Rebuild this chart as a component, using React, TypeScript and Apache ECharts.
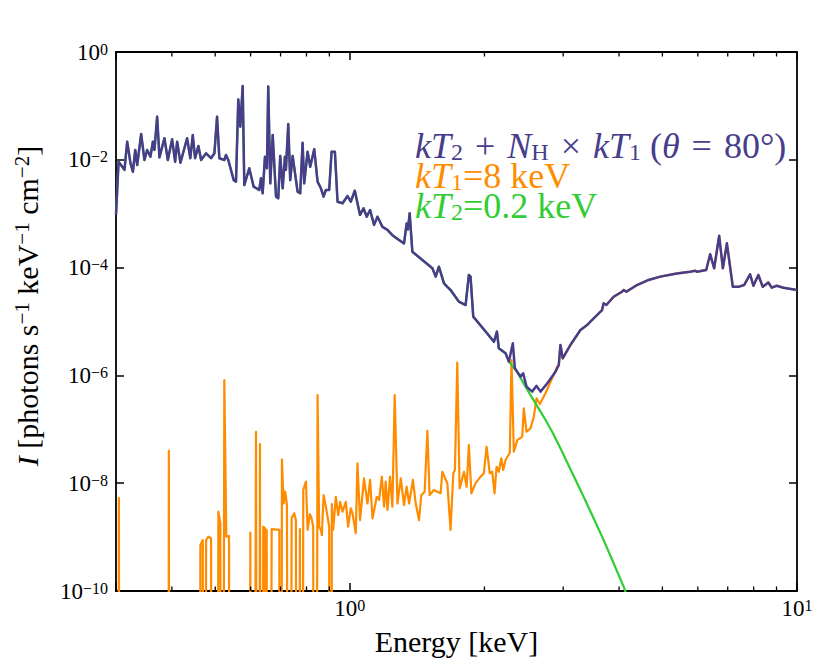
import React, { useEffect, useRef } from "react";
import * as echarts from "echarts";

// Flux value that is effectively zero (falls below the plotted range)
const FLOOR = 1e-30;

// Total model: kT2 + NH x kT1 (theta = 80 deg)
const totalE = [
  0.300, 0.304, 0.3134, 0.3178, 0.3232, 0.3273, 0.3312, 0.3346, 0.3415, 0.3473,
  0.3522, 0.3582, 0.3627, 0.3657, 0.3708, 0.3752, 0.3850, 0.3918, 0.4005, 0.4068,
  0.4110, 0.4181, 0.4326, 0.4399, 0.4454, 0.4508, 0.4585, 0.4650, 0.4771, 0.4895,
  0.4979, 0.5048, 0.5108, 0.5240, 0.5286, 0.5348, 0.5500, 0.5565, 0.5631, 0.5689,
  0.5760, 0.5808, 0.5958, 0.6095, 0.6273, 0.6329, 0.6384, 0.6460, 0.6526, 0.6570,
  0.6640, 0.6723, 0.6839, 0.6918, 0.6989, 0.7077, 0.7159, 0.7196, 0.7283, 0.7357,
  0.7449, 0.7642, 0.7745, 0.7841, 0.7906, 0.8045, 0.8156, 0.8325, 0.8470, 0.8617,
  0.8736, 0.8839, 0.8991, 0.9103, 0.9260, 0.9387, 0.9632, 0.9882, 1.005, 1.026,
  1.054, 1.073, 1.091, 1.110, 1.133, 1.153, 1.183, 1.214, 1.245, 1.288,
  1.322, 1.340, 1.349, 1.361, 1.380, 1.530, 1.556, 1.582, 1.624, 1.652,
  1.680, 1.754, 1.815, 1.846, 1.862, 1.888, 2.029, 2.100, 2.133, 2.154,
  2.230, 2.268, 2.315, 2.339, 2.408, 2.442, 2.484, 2.557, 2.615, 2.669,
  2.762, 2.884, 2.933, 2.958, 2.993, 3.113, 3.279, 3.393, 3.451, 3.665,
  3.695, 3.747, 3.890, 4.062, 4.096, 4.153, 4.387, 4.657, 4.946, 5.389,
  5.770, 5.920, 5.972, 6.265, 6.395, 6.528, 6.698, 6.827, 6.969, 7.187,
  7.396, 7.616, 7.854, 7.989, 8.196, 8.383, 8.628, 8.780, 9.010, 9.320, 10.0,
];
const totalI = [
  9.5e-4, 9.2e-3, 6.5e-3, 2.17e-2, 8.7e-3, 6.0e-3, 1.52e-2, 8.0e-3, 3.01e-2, 9.9e-3,
  1.52e-2, 1.14e-2, 2.17e-2, 1.52e-2, 6.3e-2, 1.11e-2, 2.51e-2, 9.9e-3, 2.4e-2, 9.2e-3,
  2.17e-2, 8.8e-3, 2.51e-2, 1.07e-2, 2.88e-2, 1.07e-2, 1.80e-2, 9.9e-3, 1.32e-2, 1.07e-2,
  1.32e-2, 6.3e-2, 1.07e-2, 9.9e-3, 1.23e-2, 9.9e-3, 4.2e-3, 3.93e-3, 0.132, 4.1e-2,
  0.234, 3.4e-3, 6.95e-3, 3.17e-3, 2.75e-3, 4.54e-3, 2.39e-3, 1.14e-2, 6.95e-3, 0.228,
  3.66e-3, 2.88e-2, 2.07e-3, 1.93e-3, 1.18e-2, 2.96e-3, 1.14e-2, 6.5e-3, 4.6e-2, 4.2e-3,
  1.18e-2, 2.56e-3, 2.39e-3, 2.07e-2, 3.66e-3, 1.41e-2, 7.4e-3, 1.57e-2, 3.93e-3, 2.96e-3,
  2.07e-3, 2.75e-3, 2.75e-3, 1.41e-2, 1.41e-2, 1.67e-3, 1.56e-3, 2.13e-3, 1.67e-3, 2.67e-3,
  9.5e-4, 1.26e-3, 8.8e-4, 1.17e-3, 6.2e-4, 8.8e-4, 5.7e-4, 5.0e-4, 4.0e-4, 3.25e-4,
  2.82e-4, 6.6e-4, 5.1e-4, 1.02e-3, 1.97e-4, 9.7e-5, 6.8e-5, 1.04e-4, 5.1e-5, 4.4e-5,
  3.84e-5, 2.33e-5, 2.02e-5, 7.3e-5, 6.8e-5, 1.23e-5, 6.0e-6, 4.2e-6, 6.5e-6, 3.18e-6,
  2.57e-6, 1.80e-6, 3.94e-6, 1.36e-6, 9.5e-7, 1.09e-6, 6.2e-7, 5.0e-7, 6.4e-7, 5.0e-7,
  7.1e-7, 1.17e-6, 1.56e-6, 3.66e-6, 2.07e-6, 3.66e-6, 6.95e-6, 8.6e-6, 9.9e-6, 1.63e-5,
  2.18e-5, 2.02e-5, 2.88e-5, 3.57e-5, 3.84e-5, 3.57e-5, 4.75e-5, 5.9e-5, 6.8e-5, 7.8e-5,
  8.4e-5, 8.75e-5, 8.4e-5, 9.0e-5, 1.77e-4, 9.7e-5, 3.9e-4, 9.7e-5, 2.82e-4, 4.4e-5,
  4.4e-5, 4.75e-5, 7.5e-5, 4.6e-5, 7.3e-5, 4.4e-5, 5.3e-5, 4.24e-5, 4.6e-5, 4.24e-5, 3.84e-5,
];

// kT1 = 8 keV component (low-energy part; above ~2.9 keV it follows the total)
const hotE = [
  0.303, 0.3045, 0.307,
  0.3918, 0.3938, 0.3964,
  0.4613, 0.4632, 0.4690, 0.4729, 0.4771, 0.4827, 0.4895, 0.4920,
  0.5024, 0.5082, 0.5134, 0.5171, 0.5240, 0.5294, 0.5368, 0.5395,
  0.5952, 0.5991, 0.6034, 0.6169, 0.6223, 0.6296, 0.6352, 0.6404, 0.6460, 0.6494,
  0.6517, 0.6570, 0.6687, 0.6956, 0.6989, 0.7050, 0.7112, 0.7171, 0.7234, 0.7319,
  0.7410, 0.7510, 0.7576, 0.7642, 0.7735, 0.7803, 0.7868, 0.7977, 0.8047, 0.8142,
  0.8213, 0.8281, 0.8354, 0.8470, 0.8540, 0.8615, 0.8659, 0.8736, 0.8840, 0.8992,
  0.9037, 0.9116, 0.9177, 0.9306, 0.9417, 0.9513, 0.9632, 0.9796, 0.9913, 1.005,
  1.014, 1.031, 1.040, 1.054, 1.076, 1.095, 1.110, 1.124, 1.149, 1.163,
  1.179, 1.193, 1.203, 1.214, 1.230, 1.245, 1.260, 1.278, 1.300, 1.322,
  1.340, 1.357, 1.384, 1.404, 1.428, 1.445, 1.470, 1.491, 1.508, 1.542,
  1.569, 1.596, 1.610, 1.652, 1.680, 1.704, 1.718, 1.739, 1.760, 1.800,
  1.825, 1.846, 1.870, 1.911, 1.961, 1.994, 2.022, 2.056, 2.082, 2.107,
  2.129, 2.154, 2.181, 2.203, 2.230, 2.279, 2.299, 2.327, 2.368, 2.430,
  2.449, 2.484, 2.535, 2.579, 2.615, 2.660, 2.739, 2.908,
];
const hotI = [
  FLOOR, 5.3e-9, FLOOR,
  FLOOR, 4.0e-8, FLOOR,
  FLOOR, 7.1e-10, 8.8e-10, FLOOR, 8.8e-10, 1.02e-9, 9.5e-10, FLOOR,
  FLOOR, 2.96e-9, 1.80e-9, FLOOR, 8.2e-7, 1.02e-9, 1.05e-9, FLOOR,
  FLOOR, 1.21e-9, FLOOR, 9.0e-8, FLOOR, 5.3e-8, FLOOR, 1.56e-9, 1.46e-9, FLOOR,
  1.36e-9, FLOOR, 1.41e-9, 1.36e-9, FLOOR, 2.77e-8, 4.2e-9, 6.95e-9, 3.94e-9, FLOOR,
  2.23e-9, 2.77e-9, 2.07e-9, FLOOR, 1.40e-9, FLOOR, 7.5e-9, 1.07e-8, 1.36e-9, 2.68e-9,
  2.23e-9, 1.56e-9, FLOOR, 4.3e-7, 1.56e-9, 1.36e-9, 1.09e-9, 6.0e-9, 3.66e-9, 1.56e-9,
  FLOOR, 4.1e-9, 1.36e-9, 5.6e-9, 2.57e-9, 4.5e-9, 2.96e-9, 4.5e-9, 1.56e-9, 3.42e-9,
  2.77e-9, 1.18e-9, 2.34e-8, 2.07e-9, 1.23e-8, 4.2e-9, 1.15e-8, 2.23e-9, 5.6e-9, 4.9e-9,
  1.32e-8, 3.66e-9, 1.07e-8, 3.18e-9, 1.32e-8, 3.66e-9, 4.3e-7, 4.2e-9, 1.23e-8, 3.94e-9,
  8.6e-9, 4.2e-9, 1.15e-8, 4.2e-9, 2.07e-9, 6.0e-9, 6.95e-9, 9.4e-8, 6.0e-9, 7.5e-9,
  6.95e-9, 6.5e-9, 1.63e-8, 1.0e-8, 1.36e-9, 1.53e-8, 1.76e-8, 1.72e-6, 8.0e-9, 1.63e-8,
  8.6e-9, 5.1e-8, 6.5e-9, 1.0e-8, 1.32e-8, 1.53e-8, 4.75e-8, 1.53e-8, 1.63e-8, 6.5e-9,
  2.02e-8, 1.63e-8, 2.9e-8, 1.76e-8, 2.69e-8, 3.68e-8, 1.93e-6, 3.84e-8, 6.3e-8, 7.3e-8,
  2.45e-7, 9.0e-8, 1.04e-7, 1.71e-7, 3.76e-7, 2.95e-7, 4.66e-7, 1.45e-6,
];

// kT2 = 0.2 keV component: follows the total below ~2.27 keV, then falls off
const coolTailE = [2.368, 2.471, 2.602, 2.720, 2.835, 2.958, 3.110, 3.279, 3.480, 3.695, 3.890, 4.111, 4.46];
const coolTailI = [1.15e-6, 6.2e-7, 3.03e-7, 1.65e-7, 9.0e-8, 4.44e-8, 1.85e-8, 7.5e-9, 2.6e-9, 8.8e-10, 3.27e-10, 1.12e-10, 1.26e-11];

// Axis ticks
const minorTickE = [0.4, 0.5, 0.6, 0.7, 0.8, 0.9, 2, 3, 4, 5, 6, 7, 8, 9];
const yTickExponents = [-10, -8, -6, -4, -2, 0];

const SERIF = "'Liberation Serif', 'DejaVu Serif', serif";
const BLUE = "#483D8B";
const ORANGE = "#FF8C00";
const GREEN = "#32CD32";

const pairs = (e: number[], v: number[]) => e.map((x, i) => [x, v[i]]);

export default function App() {
  const ref = useRef<HTMLDivElement>(null);

  useEffect(() => {
    document.body.style.margin = "0";
    if (!ref.current) return;
    const chart = echarts.init(ref.current, undefined, { renderer: "svg" });

    const totalData = pairs(totalE, totalI);
    const hotData = pairs(hotE, hotI).concat(totalData.filter((p) => p[0] > 2.92));
    const coolData = totalData.filter((p) => p[0] <= 2.27).concat(pairs(coolTailE, coolTailI));

    const tickRich = {
      b: { fontFamily: SERIF, fontSize: 23, lineHeight: 22, color: "#000" },
      s: { fontFamily: SERIF, fontSize: 16, lineHeight: 11, verticalAlign: "top", color: "#000" },
    };
    const expText = (n: number) => (n < 0 ? "\u2212" + Math.abs(n) : String(n));

    const xFmt = (v: number) => {
      const l = Math.log10(v);
      const r = Math.round(l);
      return Math.abs(l - r) < 1e-6 ? `{b|10}{s|${expText(r)}}` : "";
    };
    const yFmt = (v: number) => `{b|10}{s|${expText(Math.round(v))}}`;

    const axisLine = { show: true, onZero: false, lineStyle: { color: "#000", width: 1.8 } };
    const majorTick = { show: true, inside: true, length: 8, lineStyle: { color: "#000", width: 1.5 } };

    const legendRich = (color: string) => ({
      i: { fontFamily: SERIF, fontStyle: "italic", fontSize: 36, lineHeight: 36, color },
      r: { fontFamily: SERIF, fontSize: 36, lineHeight: 36, color },
      op: { fontFamily: SERIF, fontSize: 36, lineHeight: 36, padding: [0, 12, 0, 12], color },
      sb: { fontFamily: SERIF, fontSize: 24, lineHeight: 20, verticalAlign: "bottom", color },
    });

    const option: any = {
      animation: false,
      backgroundColor: "#ffffff",
      grid: { left: 116, right: 33, top: 52, bottom: 73, containLabel: false, outerBoundsMode: "none" },
      xAxis: [
        {
          type: "log",
          logBase: 10,
          min: 0.3,
          max: 10,
          position: "bottom",
          axisLine,
          axisTick: majorTick,
          axisLabel: { show: true, margin: 6, formatter: xFmt, rich: tickRich, showMaxLabel: true, showMinLabel: true },
          splitLine: { show: false },
        },
        {
          type: "log",
          logBase: 10,
          min: 0.3,
          max: 10,
          position: "top",
          axisLine,
          axisTick: majorTick,
          axisLabel: { show: false },
          splitLine: { show: false },
        },
      ],
      yAxis: [
        { type: "log", logBase: 10, min: 1e-10, max: 1, show: false, splitLine: { show: false } },
        {
          type: "value",
          min: yTickExponents[0],
          max: yTickExponents[yTickExponents.length - 1],
          interval: 2,
          position: "left",
          axisLine,
          axisTick: majorTick,
          axisLabel: { show: true, margin: 8, formatter: yFmt, rich: tickRich, showMinLabel: true, showMaxLabel: true },
          splitLine: { show: false },
        },
        {
          type: "value",
          min: yTickExponents[0],
          max: yTickExponents[yTickExponents.length - 1],
          interval: 2,
          position: "right",
          axisLine,
          axisTick: majorTick,
          axisLabel: { show: false },
          splitLine: { show: false },
        },
      ],
      series: [
        {
          type: "line",
          name: "kT1",
          data: hotData,
          xAxisIndex: 0,
          yAxisIndex: 0,
          symbol: "none",
          clip: true,
          z: 3,
          lineStyle: { color: ORANGE, width: 2.2, join: "round" },
        },
        {
          type: "line",
          name: "kT2",
          data: coolData,
          xAxisIndex: 0,
          yAxisIndex: 0,
          symbol: "none",
          clip: true,
          z: 3,
          lineStyle: { color: GREEN, width: 2.2, join: "round" },
        },
        {
          type: "line",
          name: "total",
          data: totalData,
          xAxisIndex: 0,
          yAxisIndex: 0,
          symbol: "none",
          clip: true,
          z: 4,
          lineStyle: { color: BLUE, width: 2.5, join: "round" },
        },
        {
          type: "custom",
          name: "minor ticks",
          xAxisIndex: 0,
          yAxisIndex: 0,
          silent: true,
          clip: false,
          z: 5,
          data: minorTickE.map((e) => [e, 1e-5]),
          encode: { x: 0, y: 1 },
          renderItem: (params: any, api: any) => {
            const cs = params.coordSys;
            const x = api.coord([api.value(0), 1e-5])[0];
            const yb = cs.y + cs.height;
            const yt = cs.y;
            const st = { stroke: "#000", lineWidth: 1.3 };
            return {
              type: "group",
              children: [
                { type: "line", shape: { x1: x, y1: yb, x2: x, y2: yb - 4.5 }, style: st },
                { type: "line", shape: { x1: x, y1: yt, x2: x, y2: yt + 4.5 }, style: st },
              ],
            };
          },
        },
      ],
      graphic: [
        {
          type: "text",
          x: 456.5,
          y: 641,
          style: {
            text: "Energy [keV]",
            fontFamily: SERIF,
            fontSize: 30,
            fill: "#000",
            align: "center",
            verticalAlign: "middle",
          },
        },
        {
          type: "text",
          x: 27,
          y: 306,
          rotation: Math.PI / 2,
          style: {
            text: "{i|I}{r| [photons s}{sp|\u22121}{r| keV}{sp|\u22121}{r| cm}{sp|\u22122}{r|]}",
            fill: "#000",
            align: "center",
            verticalAlign: "middle",
            rich: {
              i: { fontFamily: SERIF, fontStyle: "italic", fontSize: 30, lineHeight: 32, color: "#000" },
              r: { fontFamily: SERIF, fontSize: 30, lineHeight: 32, color: "#000" },
              sp: { fontFamily: SERIF, fontSize: 21, lineHeight: 17, verticalAlign: "top", color: "#000" },
            },
          },
        },
        {
          type: "text",
          x: 415,
          y: 146,
          style: {
            text: "{i|kT}{sb|2}{op|+}{i|N}{sb|H}{op|\u00d7}{i|kT}{sb|1}{r| (}{i|\u03b8}{op|=}{r|80\u00b0)}",
            fill: BLUE,
            align: "left",
            verticalAlign: "middle",
            rich: legendRich(BLUE),
          },
        },
        {
          type: "text",
          x: 415,
          y: 176,
          style: {
            text: "{i|kT}{sb|1}{r|=8 keV}",
            fill: ORANGE,
            align: "left",
            verticalAlign: "middle",
            rich: legendRich(ORANGE),
          },
        },
        {
          type: "text",
          x: 415,
          y: 206,
          style: {
            text: "{i|kT}{sb|2}{r|=0.2 keV}",
            fill: GREEN,
            align: "left",
            verticalAlign: "middle",
            rich: legendRich(GREEN),
          },
        },
      ],
    };

    chart.setOption(option);
    return () => chart.dispose();
  }, []);

  return <div ref={ref} style={{ width: 830, height: 664 }} />;
}
